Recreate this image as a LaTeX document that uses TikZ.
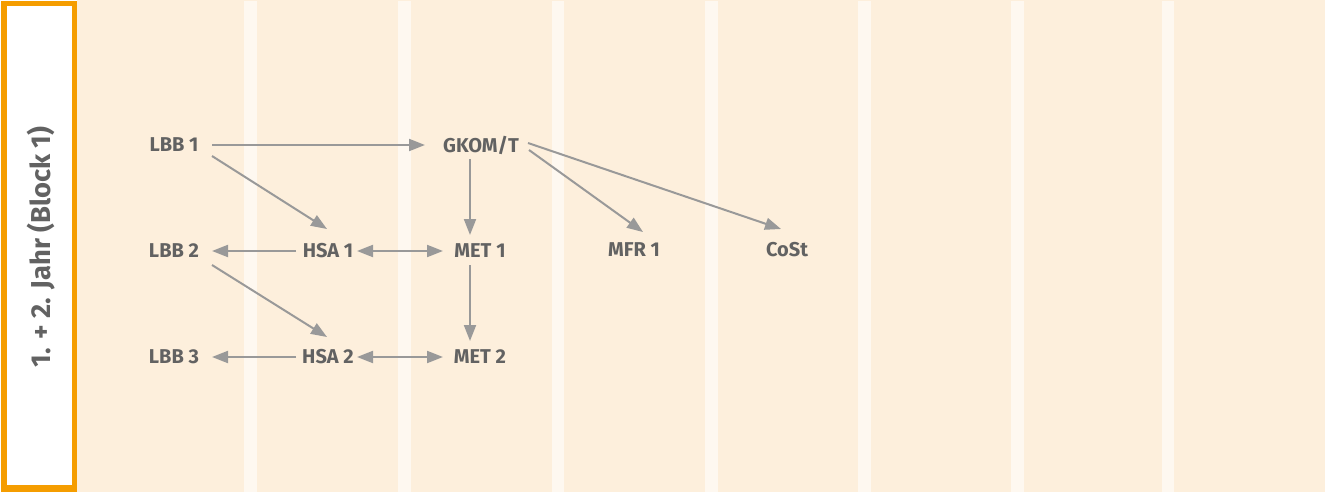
\documentclass[tikz,border=0pt]{standalone}
\usepackage{fontspec}
\setmainfont{Fira Sans}
\usetikzlibrary{arrows.meta,calc}
\definecolor{beige}{HTML}{FDEFDC}
\definecolor{stripe}{HTML}{FEF8F0}
\definecolor{frameorange}{HTML}{F59D00}
\definecolor{txtgray}{HTML}{626262}
\definecolor{arrgray}{HTML}{999999}
\begin{document}
\begin{tikzpicture}[x=0.75pt,y=-0.75pt,
  lab/.style={font=\bfseries\fontsize{15}{18}\selectfont, text=txtgray, inner sep=0pt, anchor=center},
  vlab/.style={font=\bfseries\fontsize{20.5}{24}\selectfont, text=txtgray, inner sep=0pt, rotate=90},
  arr/.style={draw=arrgray, line width=1.5pt, -{Triangle[length=12pt,width=9pt]}},
  darr/.style={draw=arrgray, line width=1.5pt, {Triangle[length=12pt,width=9pt]}-{Triangle[length=12pt,width=9pt]}}]
\useasboundingbox (0,0) rectangle (1325,492);
\fill[beige] (77,0) rectangle (1325,492);
\foreach \x in {244,398,551.5,705,858,1011,1161.5}
  \fill[stripe] (\x,1) rectangle ++(12.7,491);
\fill[frameorange] (1,1) rectangle (77,492);
\fill[white] (6.5,6.5) rectangle (71.5,485);
\node[vlab] (title) at (41,247) {1. + 2. Jahr (Block 1)};

\node[lab] (lbb1) at (174,145) {LBB 1};
\node[lab] (gkom) at (481,145) {GKOM/T};
\node[lab] (lbb2) at (174,251) {LBB 2};
\node[lab] (hsa1) at (328,251) {HSA 1};
\node[lab] (met1) at (480,251) {MET 1};
\node[lab] (mfr1) at (634,250) {MFR 1};
\node[lab] (cost) at (787,250) {CoSt};
\node[lab] (lbb3) at (174,357) {LBB 3};
\node[lab] (hsa2) at (328,357) {HSA 2};
\node[lab] (met2) at (480,357) {MET 2};

\draw[arr] ($(lbb1)+(38,0)$) -- ($(gkom)+(-56,0)$);
\draw[arr] ($(lbb1)+(38,11)$) -- ($(hsa1)+(-1,-22)$);
\draw[arr] ($(lbb2)+(38,14)$) -- ($(hsa2)+(-1,-20)$);
\draw[arr] ($(hsa1)+(-32,0)$) -- ($(lbb2)+(38,0)$);
\draw[arr] ($(hsa2)+(-32,0)$) -- ($(lbb3)+(38,0)$);
\draw[darr] ($(hsa1)+(29,0)$) -- ($(met1)+(-37,0)$);
\draw[darr] ($(hsa2)+(29,0)$) -- ($(met2)+(-37,0)$);
\draw[arr] ($(gkom)+(-11,14)$) -- ($(met1)+(-10,-16)$);
\draw[arr] ($(met1)+(-10,14)$) -- ($(met2)+(-10,-16)$);
\draw[arr] ($(gkom)+(48,5)$) -- ($(mfr1)+(9,-18)$);
\draw[arr] ($(gkom)+(47,-2)$) -- ($(cost)+(-6,-21)$);
\end{tikzpicture}
\end{document}
